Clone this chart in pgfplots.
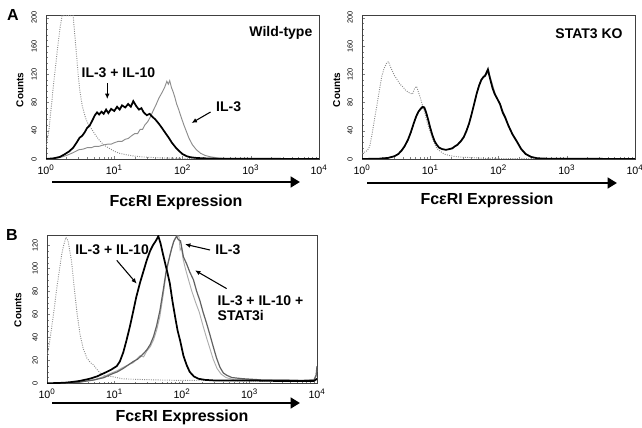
\documentclass[border=0pt]{standalone}
\usepackage{fontspec}
\setmainfont{Liberation Sans}
\usepackage{pgfplots}
\pgfplotsset{compat=1.18}
\usetikzlibrary{arrows.meta}

\definecolor{iso}{gray}{0.55}
\definecolor{ilthree}{gray}{0.55}
\definecolor{ilthreeB}{gray}{0.68}
\definecolor{stati}{gray}{0.38}

\pgfplotsset{
  every axis/.append style={
    axis line style={black!75, line width=0.7pt},
    tick align=inside, xtick pos=bottom, ytick pos=left,
    xtick={1,10,100,1000,10000},
    xticklabels={10\textsuperscript{0},10\textsuperscript{1},10\textsuperscript{2},10\textsuperscript{3},10\textsuperscript{4}},
    xticklabel style={font=\fontsize{8}{9}\selectfont},
    xticklabel shift=1pt,
    yticklabel style={font=\fontsize{5.5}{6}\selectfont, rotate=90, anchor=south},
    yticklabel shift=3.5pt,
    major tick length=2pt, minor tick length=1.3pt,
    /pgf/number format/assume math mode=true,
  },
}
\tikzset{
  note/.style={font=\fontsize{10.5}{11.25}\selectfont\bfseries},
  pointer/.style={-{Latex[length=4pt,width=3.5pt]}, line width=0.8pt},
  cnt/.style={rotate=90, font=\fontsize{7.5}{8}\selectfont\bfseries},
  big/.style={font=\fontsize{12}{14}\selectfont\bfseries},
  fatarrow/.style={line width=2.2pt, -{Triangle[length=7pt,width=8pt]}},
}

\begin{document}
\begin{tikzpicture}
\useasboundingbox (0,0) rectangle (481.5pt,321pt);

% panel A, wild-type
\begin{axis}[scale only axis, anchor=south west, at={(34.5pt,201.75pt)},
  width=204.75pt, height=108pt, xmode=log, xmin=1, xmax=10000,
  ymin=0, ymax=204, ytick={0,40,...,200}, minor y tick num=4]
\addplot[iso, densely dotted, line width=0.7pt] coordinates {
(1,17) (1.1,40) (1.2,75) (1.3,110) (1.45,150) (1.6,185) (1.72,203) (2.5,203)
(2.7,165) (2.9,130) (3.1,100) (3.4,75) (3.8,58) (4.2,48) (4.7,42) (5.3,34)
(6,27) (7,20) (8.5,15) (10,11) (12,8) (15,6) (20,4) (30,2.5) (50,1.5) (80,1)
(150,0.5) (10000,0.5)};
\addplot[ilthree, line width=0.7pt] coordinates {
(1,0) (1.3,0.5) (1.6,2) (2,5) (2.5,9) (3,13) (3.5,14) (4,16) (4.6,16) (5.2,18)
(6,18) (7,20) (8,21) (9,21) (10,23) (11.5,25) (13,25) (14.5,28) (16,29) (18,33)
(20,36) (22,36) (24,42) (26,42) (28,48) (31,53) (34,60) (37,68) (41,77) (45,86)
(50,94) (55,102) (59,110) (62,106) (65,111) (69,101) (73,95) (77,88) (82,78)
(88,70) (95,60) (105,48) (115,38) (125,29) (140,20) (160,13) (185,8) (215,5)
(260,3) (330,1.5) (450,0.5) (10000,0)};
\addplot[black, line width=1.3pt] coordinates {
(1,0) (1.3,1) (1.6,3) (1.9,7) (2.2,11) (2.5,16) (2.8,23) (3.1,30) (3.4,33)
(3.7,38) (4,44) (4.4,48) (4.8,55) (5.2,62) (5.6,66) (6,63) (6.5,67) (7,64)
(7.6,70) (8.2,65) (9,71) (10,68) (11,74) (12,70) (13,76) (14.5,73) (16,78)
(17.5,74) (19,82) (21,75) (23,70) (25,72) (27,66) (30,62) (33,64) (36,60)
(40,56) (45,50) (50,44) (56,37) (63,30) (70,23) (80,16) (90,11) (100,7)
(115,4) (130,2.5) (160,1.5) (200,1) (300,0.5) (10000,0)};
\node[note] at (axis cs:2760,178) {Wild-type};
\node[note] at (axis cs:11.5,122) {IL-3 + IL-10};
\draw[pointer] (axis cs:7.9,107) -- (axis cs:7.9,85);
\node[note] at (axis cs:475,73.6) {IL-3};
\draw[pointer] (axis cs:258,66.6) -- (axis cs:136,51);
\end{axis}

% panel A, STAT3 KO
\begin{axis}[scale only axis, anchor=south west, at={(271.5pt,201.75pt)},
  width=204.75pt, height=108pt, xmode=log, xmin=1, xmax=10000,
  ymin=0, ymax=204, ytick={0,40,...,200}, minor y tick num=4]
\addplot[iso, densely dotted, line width=0.7pt] coordinates {
(1,8) (1.1,10) (1.2,12) (1.3,18) (1.4,35) (1.5,52) (1.64,74) (1.8,98)
(1.95,117) (2.1,128) (2.3,136) (2.45,138) (2.6,131) (2.8,124) (3,118)
(3.3,112) (3.6,106) (4,102) (4.3,98) (4.7,95) (5.1,93) (5.5,92) (5.9,100)
(6.3,103) (6.7,95) (7.2,86) (7.8,74) (8.4,64) (9,52) (9.7,42) (10.5,32)
(11.5,22) (12.5,15) (14,11) (16,7) (19,5) (23,3.5) (30,2.5) (40,2) (60,1)
(100,0.5) (10000,0.5)};
\addplot[ilthree, line width=0.7pt] coordinates {
(1,0) (1.8,0.5) (2.4,1.5) (3,4) (3.4,7) (3.8,11) (4.2,17) (4.7,26) (5.2,37)
(5.7,49) (6.2,59) (6.7,66) (7.2,70) (7.7,72) (8.2,71) (8.7,65) (9.3,56) (10,45)
(10.8,34) (11.6,26) (12.5,20) (13.5,16) (15,14) (17,13) (19,14) (21,16)
(23,18) (25,21) (28,26) (31,32) (34,41) (37,51) (40,63) (44,79) (48,94)
(52,106) (56,113) (60,117) (64,120) (68,121) (72,124) (75,117) (79,110)
(84,101) (90,92) (97,85) (107,77) (117,67) (127,59) (140,48) (160,36) (185,26)
(215,15) (250,8) (300,3) (370,1) (500,0.5) (10000,0)};
\addplot[black, line width=1.3pt] coordinates {
(1,0) (1.8,0.5) (2.4,1.5) (3,4) (3.4,7) (3.8,12) (4.2,18) (4.7,27) (5.2,38)
(5.7,50) (6.2,60) (6.7,67) (7.2,71) (7.7,74) (8.2,73) (8.7,66) (9.3,56)
(10,44) (10.8,33) (11.6,25) (12.5,20) (13.5,16) (15,14) (17,13) (19,14)
(21,15) (23,18) (25,20) (28,25) (31,31) (34,40) (37,50) (40,62) (44,78)
(48,93) (52,104) (56,112) (60,116) (64,118) (67,123) (70,127) (73,119)
(77,110) (82,100) (88,92) (95,86) (105,78) (115,66) (125,59) (140,47)
(160,35) (185,25) (215,14) (250,7) (300,3) (370,1) (500,0.5) (10000,0)};
\node[note] at (axis cs:2120,178) {STAT3 KO};
\end{axis}

% panel B
\begin{axis}[scale only axis, anchor=south west, at={(35.25pt,33.5pt)},
  width=202.5pt, height=111.2pt, xmode=log, xmin=1, xmax=10000,
  ymin=0, ymax=129, ytick={0,20,...,120}, minor y tick num=3]
\addplot[iso, densely dotted, line width=0.7pt] coordinates {
(1,24) (1.08,34) (1.17,48) (1.28,65) (1.39,82) (1.52,98) (1.65,112) (1.78,121)
(1.91,127) (2.05,124) (2.15,117) (2.3,107) (2.55,82) (2.8,60) (3.1,42)
(3.45,30) (3.9,22) (4.4,18) (4.9,16) (5.5,12) (6.1,9) (7,7) (8,6) (9,6)
(10.8,5) (13,4) (20,3.5) (40,3) (100,2.5) (300,2.5) (1000,2) (3000,2)
(9000,2.5) (9700,6) (10000,14)};
\addplot[ilthreeB, line width=0.7pt] coordinates {
(1.5,0) (3,1) (5,3) (7,6) (9,9) (11,11) (13.5,14) (16,16) (19,18) (22,22)
(24,24) (27,23) (30,28) (34,32) (38,38) (42,46) (47,58) (53,78) (58,95)
(63,106) (68,114) (74,122) (80,126) (85,128) (90,128) (94,116) (98,118)
(104,108) (112,100) (125,90) (140,80) (160,70) (180,62) (205,50) (230,40)
(260,30) (290,21) (330,13) (380,8) (450,5) (600,3) (1000,3) (2000,2.5)
(5000,2.5) (9000,3) (9700,6) (10000,14)};
\addplot[stati, line width=0.9pt] coordinates {
(1.5,0) (3,1) (5,3) (7,5) (9,8) (11,10) (13.5,13) (16,16) (19,19) (22,21)
(26,25) (30,29) (34,34) (38,41) (42,50) (47,63) (53,82) (58,97) (63,106)
(70,117) (76,124) (83,128) (88,125) (95,124) (105,110) (117,104) (130,97)
(148,90) (165,80) (184,72) (205,62) (232,52) (260,42) (290,32) (325,22)
(365,14) (410,9) (460,7) (550,5) (800,4) (1500,3) (3000,3) (6000,2.5)
(9000,3) (9700,7) (10000,15)};
\addplot[black, line width=1.3pt] coordinates {
(1,0) (1.8,0.5) (2.2,1) (3,2) (4.3,4) (5.5,6) (6.5,8) (7.7,10) (9,12)
(10.8,15) (12,19) (13.5,27) (15,37) (17,50) (19,63) (21,75) (24,88) (27,98)
(30,107) (33.6,115) (37,120) (41,124) (44.6,128) (48,122) (52,113) (56,105)
(61,96) (66,87) (72,72) (79,58) (86,46) (94,37) (105,24) (117,16) (130,10)
(150,6) (175,4) (220,3) (300,2.5) (1000,2.5) (3000,2) (9000,2) (10000,4)};
\node[note] at (axis cs:9.2,116.5) {IL-3 + IL-10};
\draw[pointer] (axis cs:10.8,107) -- (axis cs:21.3,86.7);
\node[note] at (axis cs:479,116.5) {IL-3};
\draw[pointer] (axis cs:260,116) -- (axis cs:111,121);
\node[note, anchor=west, align=left] at (axis cs:288,65.7) {IL-3 + IL-10 +\\STAT3i};
\draw[pointer] (axis cs:459,82.4) -- (axis cs:156,98.3);
\end{axis}

% axis titles, panel letters and expression arrows
\node[cnt] at (15pt,253.5pt) {Counts};
\node[cnt] at (252.5pt,253.5pt) {Counts};
\node[cnt] at (13.5pt,88.5pt) {Counts};
\node[big] at (9.75pt,309.75pt) {A};
\node[big] at (9pt,144.75pt) {B};
\draw[fatarrow] (39pt,184.5pt) -- (225pt,184.5pt);
\draw[fatarrow] (275.25pt,183.75pt) -- (462.75pt,183.75pt);
\draw[fatarrow] (39pt,18.75pt) -- (225pt,18.75pt);
\node[big] at (132pt,169.5pt) {FcεRI Expression};
\node[big] at (365.25pt,171pt) {FcεRI Expression};
\node[big] at (136.5pt,8.25pt) {FcεRI Expression};
\end{tikzpicture}
\end{document}
